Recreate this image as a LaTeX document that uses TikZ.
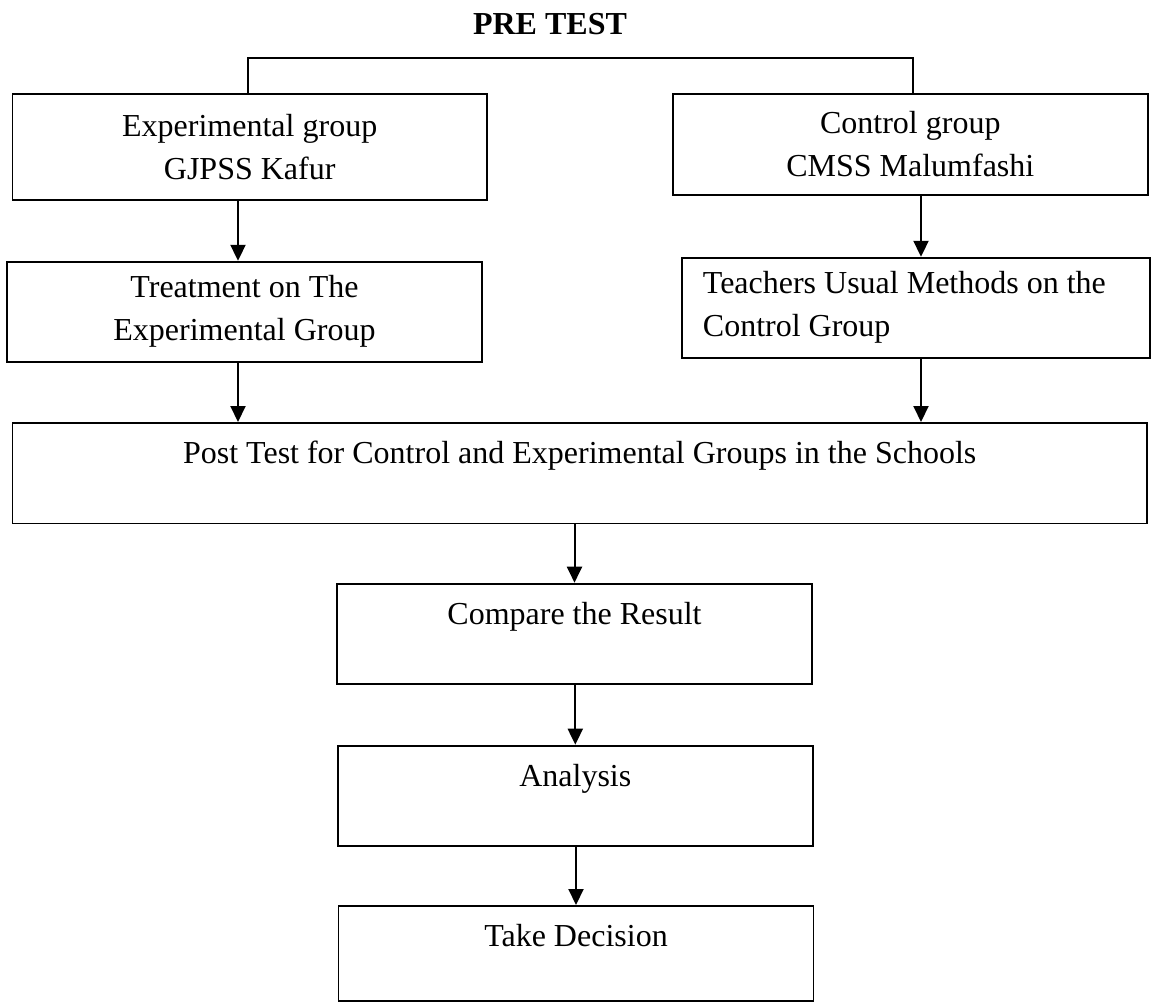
\documentclass[tikz,border=0pt]{standalone}
\usepackage{fontspec}
\setmainfont{Liberation Serif}
\usetikzlibrary{positioning,arrows.meta}

\begin{document}
\begin{tikzpicture}[x=0.5pt,y=-0.5pt,
  every node/.style={font=\fontsize{16pt}{21.5pt}\selectfont},
  box/.style={draw,line width=0.9pt,inner xsep=4pt,inner ysep=0pt,align=center},
  topbox/.style={box,anchor=north,text height=20.5pt,text depth=29.8pt,minimum width=237.5pt},
  arr/.style={-{Triangle[length=8pt,width=7.5pt]},line width=1pt},
  link/.style={line width=1pt}]
\useasboundingbox (0,0) rectangle (1152,1002);
\node[font=\fontsize{16pt}{18pt}\selectfont\bfseries] (pretest) at (550,24) {PRE TEST};
\node[box,minimum width=237.3pt,minimum height=53pt] (exp) at (249.7,147) {Experimental group\\GJPSS Kafur};
\node[box,minimum width=237.7pt,minimum height=50.3pt] (ctrl) at (910.3,144.3) {Control group\\CMSS Malumfashi};
\node[box,minimum width=237.2pt,minimum height=50pt] (treat) at (244.5,311.7) {Treatment on The\\Experimental Group};
\node[box,align=flush left,text width=213pt,inner xsep=10.6pt,minimum height=50pt] (teach) at (915.9,307.7) {Teachers Usual Methods on the\\Control Group};
\node[topbox,minimum width=567.3pt] (post) at (579.7,422) {Post Test for Control and Experimental Groups in the Schools};
\node[topbox] (cmp) at (574.5,582.7) {Compare the Result};
\node[topbox] (anal) at (575.3,744.7) {Analysis};
\node[topbox,text depth=27pt] (dec) at (576,905) {Take Decision};
\coordinate (lcol) at (238,0);
\coordinate (rcol) at (921,0);
\coordinate (split) at (580,58);
\draw[link] ([xshift=-0.85pt]exp.north) |- (split) -| ([xshift=1.2pt]ctrl.north);
\draw[arr] (exp.south -| lcol) -- (treat.north -| lcol);
\draw[arr] (ctrl.south -| rcol) -- (teach.north -| rcol);
\draw[arr] (treat.south -| lcol) -- (post.north -| lcol);
\draw[arr] (teach.south -| rcol) -- (post.north -| rcol);
\foreach \a/\b in {post/cmp,cmp/anal,anal/dec}{\draw[arr] (\a.south -| \b.north) -- (\b.north);}
\end{tikzpicture}
\end{document}
